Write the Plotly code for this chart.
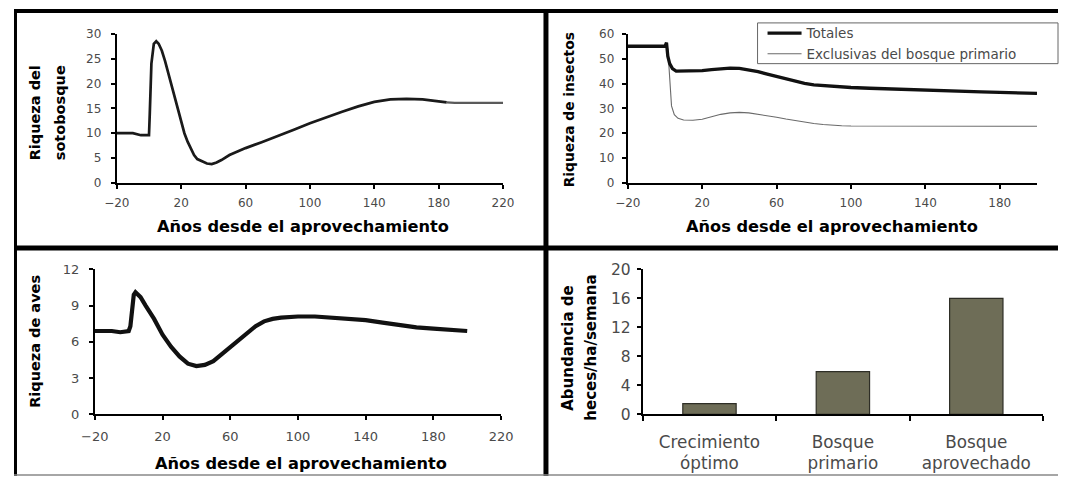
import plotly.graph_objects as go

W, H = 1070, 485

# ---------------- data ----------------
# Panel 1: Riqueza del sotobosque
years_soto = [-20, -10, -5, 0, 0.5, 1.5, 3, 4.5, 6, 8, 10, 12, 14, 16, 18, 20, 22, 24, 26, 28, 30,
              33, 36, 39, 42, 45, 50, 55, 60, 70, 80, 90, 100, 110, 120, 130, 140, 150, 160,
              170, 180, 185, 190, 200, 210, 220]
soto = [10, 10, 9.6, 9.6, 14, 24, 28, 28.5, 28, 26.6, 24.5, 22, 19.5, 17, 14.5, 12, 10, 8.3, 6.8,
        5.6, 4.8, 4.3, 3.9, 3.8, 4.1, 4.6, 5.6, 6.3, 7.0, 8.2, 9.4, 10.7, 12.0, 13.2, 14.3, 15.4,
        16.3, 16.8, 16.9, 16.8, 16.4, 16.2, 16.1, 16.1, 16.1, 16.1]

# Panel 2: Riqueza de insectos
years_tot = [-20, -10, 0, 0.8, 1.5, 2.5, 4, 6, 10, 15, 20, 25, 30, 35, 40, 45, 50, 55, 60, 65, 70,
             75, 80, 90, 100, 110, 120, 130, 140, 150, 160, 170, 180, 190, 200]
totales = [55, 55, 55, 56.5, 51, 48, 46, 45, 45, 45, 45.2, 45.6, 46, 46.2, 46.1, 45.6, 44.8, 43.8,
           42.8, 41.8, 40.9, 40.1, 39.5, 38.8, 38.4, 38.1, 37.8, 37.5, 37.2, 37, 36.8, 36.6,
           36.4, 36.2, 36]
years_exc = [-20, -10, 0, 1.5, 2.5, 3.5, 5, 7, 10, 15, 20, 25, 30, 35, 40, 45, 50, 55, 60, 65, 70,
             75, 80, 85, 90, 95, 100, 120, 140, 160, 180, 200]
exclusivas = [55, 55, 55, 54, 40, 31, 27.5, 26, 25.3, 25.2, 25.6, 26.6, 27.6, 28.2, 28.4, 28.2,
              27.7, 27.1, 26.4, 25.7, 25, 24.4, 23.9, 23.5, 23.2, 23, 22.9, 22.8, 22.8, 22.8,
              22.8, 22.8]

# Panel 3: Riqueza de aves
years_aves = [-20, -10, -5, 0, 1, 2, 3, 4, 5, 7, 10, 15, 20, 25, 30, 35, 40, 45, 50, 55, 60, 65,
              70, 75, 80, 85, 90, 100, 110, 120, 130, 140, 150, 160, 170, 180, 190, 200]
aves = [6.9, 6.9, 6.8, 6.9, 7.3, 9.0, 9.9, 10.1, 10.0, 9.7, 9.0, 7.9, 6.6, 5.6, 4.8, 4.2, 4.0, 4.1,
        4.4, 5.0, 5.6, 6.2, 6.8, 7.3, 7.7, 7.9, 8.0, 8.1, 8.1, 8.0, 7.9, 7.8, 7.6, 7.4, 7.2, 7.1,
        7.0, 6.9]

# Panel 4: Abundancia de heces
categorias = ["Crecimiento<br>óptimo", "Bosque<br>primario", "Bosque<br>aprovechado"]
heces = [1.5, 5.9, 16]

# ---------------- figure ----------------
FONT = "DejaVu Sans"
TICKC = "#4a4a4a"

# mapping from target screen pixels to figure paper coordinates (measured page placement)
SX, OX, SY, OY = 0.9776, 12.0, 0.969, 8.0


def fx(p):
    return min(1.0, max(0.0, (p - OX) / SX / W))


def fy(p):
    return min(1.0, max(0.0, 1 - (p - OY) / SY / H))


# the far tail of the understory curve is printed lighter in the original
split = years_soto.index(185)

fig = go.Figure()
fig.add_trace(go.Scatter(x=years_soto[:split + 1], y=soto[:split + 1], mode="lines",
                         xaxis="x", yaxis="y", line=dict(color="#1a1a1a", width=2.7),
                         showlegend=False))
fig.add_trace(go.Scatter(x=years_soto[split:], y=soto[split:], mode="lines",
                         xaxis="x", yaxis="y", line=dict(color="#5a5a5a", width=2.4),
                         showlegend=False))
fig.add_trace(go.Scatter(x=years_exc, y=exclusivas, mode="lines", xaxis="x2", yaxis="y2",
                         name="Exclusivas del bosque primario", legendrank=2,
                         line=dict(color="#6a6a6a", width=1.1)))
fig.add_trace(go.Scatter(x=years_tot, y=totales, mode="lines", xaxis="x2", yaxis="y2",
                         name="Totales", legendrank=1,
                         line=dict(color="#111111", width=3.3)))
fig.add_trace(go.Scatter(x=years_aves, y=aves, mode="lines", xaxis="x3", yaxis="y3",
                         line=dict(color="#111111", width=4.2), showlegend=False))
fig.add_trace(go.Bar(x=categorias, y=heces, xaxis="x4", yaxis="y4", width=0.4,
                     marker=dict(color="#6e6d57", line=dict(color="#2e2e26", width=1.2)),
                     showlegend=False))


def axis(domain, anchor, rng, dtick, tick0, fsize, standoff, **kw):
    d = dict(domain=domain, anchor=anchor, range=rng, dtick=dtick, tick0=tick0,
             showline=True, linecolor="black", linewidth=2, ticks="outside", ticklen=4,
             tickwidth=1.5, tickcolor="black", showgrid=False, zeroline=False,
             ticklabelstandoff=standoff,
             tickfont=dict(family=FONT, size=fsize, color=TICKC), fixedrange=True)
    d.update(kw)
    return d


top_y = [fy(183), fy(33)]
bot_y = [fy(416), fy(270)]

fig.update_layout(
    width=W, height=H, margin=dict(l=0, r=0, t=0, b=0),
    paper_bgcolor="white", plot_bgcolor="white",
    xaxis=axis([fx(115), fx(502)], "y", [-20, 220], 40, -20, 12, 4),
    yaxis=axis(top_y, "x", [0, 30], 5, 0, 12, 7),
    xaxis2=axis([fx(627), fx(1037)], "y2", [-20, 200], 40, -20, 12, 4),
    yaxis2=axis(top_y, "x2", [0, 60], 10, 0, 12, 5),
    xaxis3=axis([fx(93), fx(500)], "y3", [-20, 220], 40, -20, 13, 5),
    yaxis3=axis(bot_y, "x3", [0, 12], 3, 0, 13, 7),
    xaxis4=dict(domain=[fx(642), fx(1043)], anchor="y4", type="category",
                range=[-0.5, 2.5], showline=True, linecolor="black", linewidth=2,
                ticks="outside", ticklen=5, tickwidth=1.5, tickcolor="black",
                tickson="boundaries", showgrid=False, zeroline=False, ticklabelstandoff=11,
                tickfont=dict(family=FONT, size=16.8, color=TICKC), fixedrange=True),
    yaxis4=axis(bot_y, "x4", [0, 20], 4, 0, 15.5, 3),
    legend=dict(x=fx(762), y=fy(17), xanchor="left", yanchor="top",
                borderwidth=0, bgcolor="rgba(0,0,0,0)", traceorder="normal",
                font=dict(family=FONT, size=13.5, color=TICKC), tracegroupgap=0,
                itemwidth=34),
    bargap=0.6,
)

XT = "Años desde el aprovechamiento"
anns = [
    dict(text=XT, x=302, y=227, size=16.2, angle=0),
    dict(text=XT, x=832, y=227, size=16.2, angle=0),
    dict(text=XT, x=300, y=465, size=16.2, angle=0),
    dict(text="Riqueza del", x=33, y=112, size=14.5, angle=-90),
    dict(text="sotobosque", x=58, y=112, size=14.5, angle=-90),
    dict(text="Riqueza de insectos", x=568, y=109, size=13.8, angle=-90),
    dict(text="Riqueza de aves", x=33, y=342, size=14.5, angle=-90),
    dict(text="Abundancia de", x=567, y=349, size=15, angle=-90),
    dict(text="heces/ha/semana", x=590, y=349, size=15, angle=-90),
]
for a in anns:
    fig.add_annotation(text="<b>" + a["text"] + "</b>", x=fx(a["x"]), y=fy(a["y"]),
                       xref="paper", yref="paper", showarrow=False, textangle=a["angle"],
                       xanchor="center", yanchor="middle",
                       font=dict(family=FONT, size=a["size"], color="black"))

# legend frame (drawn as a box so its extent matches the original)
fig.add_shape(type="rect", xref="paper", yref="paper", x0=fx(757), x1=fx(1063),
              y0=fy(63), y1=fy(22), line=dict(color="#666666", width=1),
              fillcolor="rgba(0,0,0,0)", layer="above")

# panel frame bars: (x0, x1, y0, y1) in target pixels
frame = [
    (0, 1070, 7, 12, "black"),          # top
    (5, 15, 0, 485, "black"),           # left
    (542.5, 547.5, 0, 485, "black"),    # middle vertical
    (0, 1070, 246, 251, "black"),       # middle horizontal
]
for x0, x1, y0, y1, c in frame:
    fig.add_shape(type="rect", xref="paper", yref="paper", x0=fx(x0), x1=fx(x1),
                  y0=fy(y1), y1=fy(y0), line=dict(width=0), fillcolor=c, layer="above")
fig.add_shape(type="line", xref="paper", yref="paper", x0=0, x1=1, y0=0.002, y1=0.002,
              line=dict(color="#888888", width=1.5))

fig.write_html(
    "out.html",
    config={"displayModeBar": False},
    post_script="document.body.style.margin='0';document.body.style.overflow='hidden';",
)
